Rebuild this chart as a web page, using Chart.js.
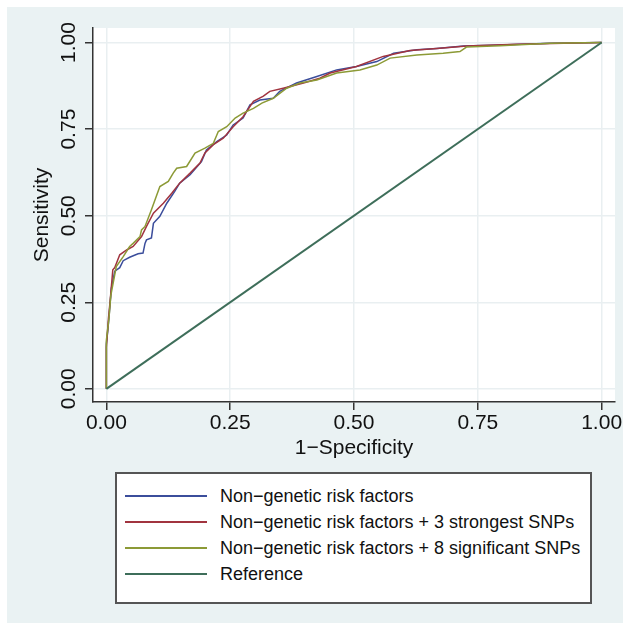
<!DOCTYPE html>
<html>
<head>
<meta charset="utf-8">
<script src="https://cdn.jsdelivr.net/npm/chart.js@4/dist/chart.umd.min.js"></script>
<style>
  html, body { margin: 0; padding: 0; background: #fff; }
  #page { position: relative; width: 630px; height: 630px; }
  #bg { position: absolute; left: 7px; top: 7px; width: 616px; height: 616px; background: #eaf2f3; }
  #chart { position: absolute; left: 0; top: 0; }
  #legend {
    position: absolute; left: 115px; top: 472px; width: 477px; height: 132px;
    background: #fff; border: 2px solid #555; padding-top: 9px; box-sizing: border-box;
    font-family: 'Liberation Sans', Arial, sans-serif; font-size: 18px; color: #111;
  }
  .row { display: flex; align-items: center; height: 26px; }
  .sw { width: 82px; margin-left: 8px; margin-right: 13px; height: 2px; }
</style>
</head>
<body>
<div id="page">
  <div id="bg"></div>
  <canvas id="chart" width="630" height="470"></canvas>
  <div id="legend"></div>
</div>
<script>
// ROC curves (x = 1-specificity, y = sensitivity)
const baseX = [0, 0, 0.003, 0.006, 0.01, 0.017, 0.027, 0.034, 0.047, 0.064, 0.074, 0.078, 0.081, 0.091, 0.095, 0.108, 0.122, 0.138, 0.148, 0.169, 0.192, 0.202, 0.223, 0.243, 0.256, 0.276, 0.29, 0.31, 0.337, 0.35, 0.384, 0.425, 0.465, 0.505, 0.546, 0.58, 0.627, 0.667, 0.721, 0.795, 0.896, 1];
const baseY = [0, 0.13, 0.17, 0.22, 0.29, 0.34, 0.35, 0.37, 0.38, 0.39, 0.392, 0.42, 0.43, 0.436, 0.478, 0.498, 0.536, 0.57, 0.594, 0.618, 0.656, 0.69, 0.714, 0.733, 0.762, 0.782, 0.82, 0.834, 0.839, 0.859, 0.883, 0.902, 0.921, 0.931, 0.945, 0.969, 0.979, 0.983, 0.99, 0.993, 0.998, 1];

const snp3X = [0, 0, 0.004, 0.008, 0.013, 0.017, 0.027, 0.041, 0.054, 0.071, 0.081, 0.095, 0.115, 0.132, 0.148, 0.169, 0.189, 0.199, 0.216, 0.236, 0.256, 0.276, 0.297, 0.317, 0.33, 0.357, 0.398, 0.431, 0.452, 0.505, 0.559, 0.613, 0.667, 0.728, 0.829, 0.923, 1];
const snp3Y = [0, 0.12, 0.2, 0.26, 0.344, 0.35, 0.387, 0.401, 0.411, 0.44, 0.469, 0.507, 0.536, 0.565, 0.594, 0.623, 0.652, 0.681, 0.705, 0.724, 0.757, 0.786, 0.83, 0.845, 0.859, 0.868, 0.883, 0.897, 0.912, 0.931, 0.96, 0.977, 0.983, 0.99, 0.995, 0.998, 1];

const snp8X = [0, 0, 0.005, 0.009, 0.02, 0.034, 0.047, 0.054, 0.068, 0.071, 0.078, 0.091, 0.108, 0.125, 0.135, 0.142, 0.162, 0.179, 0.199, 0.216, 0.226, 0.243, 0.26, 0.276, 0.297, 0.314, 0.337, 0.364, 0.391, 0.425, 0.465, 0.512, 0.546, 0.573, 0.627, 0.68, 0.714, 0.727, 0.795, 0.896, 1];
const snp8Y = [0, 0.14, 0.2, 0.27, 0.353, 0.382, 0.411, 0.42, 0.44, 0.459, 0.469, 0.517, 0.584, 0.599, 0.623, 0.637, 0.642, 0.681, 0.695, 0.709, 0.743, 0.757, 0.782, 0.796, 0.81, 0.825, 0.839, 0.868, 0.883, 0.892, 0.912, 0.921, 0.935, 0.955, 0.964, 0.969, 0.974, 0.987, 0.991, 0.998, 1];

const refX = [0, 1];
const refY = [0, 1];

const seriesLabels = [
  'Non\u2212genetic risk factors',
  'Non\u2212genetic risk factors + 3 strongest SNPs',
  'Non\u2212genetic risk factors + 8 significant SNPs',
  'Reference'
];
const seriesColors = ['#3b4d9b', '#a1343f', '#8c9a36', '#3e6e5a'];

const xTicks = [0, 0.25, 0.5, 0.75, 1];
const yTicks = [0, 0.25, 0.5, 0.75, 1];

function toPoints(xs, ys) {
  return xs.map((x, i) => ({ x: x, y: ys[i] }));
}

// white plot region on the grey page
const plotBg = {
  id: 'plotBg',
  beforeDraw(chart) {
    const { ctx, chartArea: a } = chart;
    ctx.save();
    ctx.fillStyle = '#ffffff';
    ctx.fillRect(a.left, a.top, a.right - a.left, a.bottom - a.top);
    ctx.restore();
  }
};

const font = { family: "'Liberation Sans', Arial, sans-serif", size: 21 };
const pts = [toPoints(baseX, baseY), toPoints(snp3X, snp3Y), toPoints(snp8X, snp8Y), toPoints(refX, refY)];

new Chart(document.getElementById('chart'), {
  type: 'scatter',
  data: {
    datasets: pts.map((p, i) => ({
      label: seriesLabels[i],
      data: p,
      showLine: true,
      borderColor: seriesColors[i],
      borderWidth: i === 3 ? 2 : 1.5,
      pointRadius: 0,
      tension: 0,
      order: 4 - i
    }))
  },
  options: {
    responsive: false,
    animation: false,
    layout: { padding: { top: 28, right: 15, left: 0, bottom: 0 } },
    plugins: { legend: { display: false }, tooltip: { enabled: false } },
    scales: {
      x: {
        type: 'linear',
        min: -0.027,
        max: 1.027,
        afterBuildTicks: s => { s.ticks = xTicks.map(v => ({ value: v })); },
        afterFit: s => { s.height = 68; },
        ticks: { font: font, color: '#111', padding: 1, callback: v => v.toFixed(2) },
        grid: { color: '#e9eff1', lineWidth: 1.5, tickColor: '#333', tickLength: 8, tickWidth: 1.5 },
        border: { color: '#333', width: 1.5 },
        title: { display: true, text: '1\u2212Specificity', font: font, color: '#111', padding: { top: 0, bottom: 9 } }
      },
      y: {
        type: 'linear',
        min: -0.038,
        max: 1.042,
        afterBuildTicks: s => { s.ticks = yTicks.map(v => ({ value: v })); },
        afterFit: s => { s.width = 93; },
        ticks: { font: font, color: '#111', padding: -5, minRotation: 90, maxRotation: 90, crossAlign: 'center', callback: v => v.toFixed(2) },
        grid: { color: '#e9eff1', lineWidth: 1.5, tickColor: '#333', tickLength: 8, tickWidth: 1.5 },
        border: { color: '#333', width: 1.5 },
        title: { display: true, text: 'Sensitivity', font: font, color: '#111', padding: { top: 30, bottom: 0 } }
      }
    }
  },
  plugins: [plotBg]
});

// legend box under the plot
const legend = document.getElementById('legend');
seriesLabels.forEach((lab, i) => {
  const row = document.createElement('div');
  row.className = 'row';
  const sw = document.createElement('div');
  sw.className = 'sw';
  sw.style.background = seriesColors[i];
  const txt = document.createElement('span');
  txt.textContent = lab;
  row.appendChild(sw);
  row.appendChild(txt);
  legend.appendChild(row);
});
</script>
</body>
</html>
